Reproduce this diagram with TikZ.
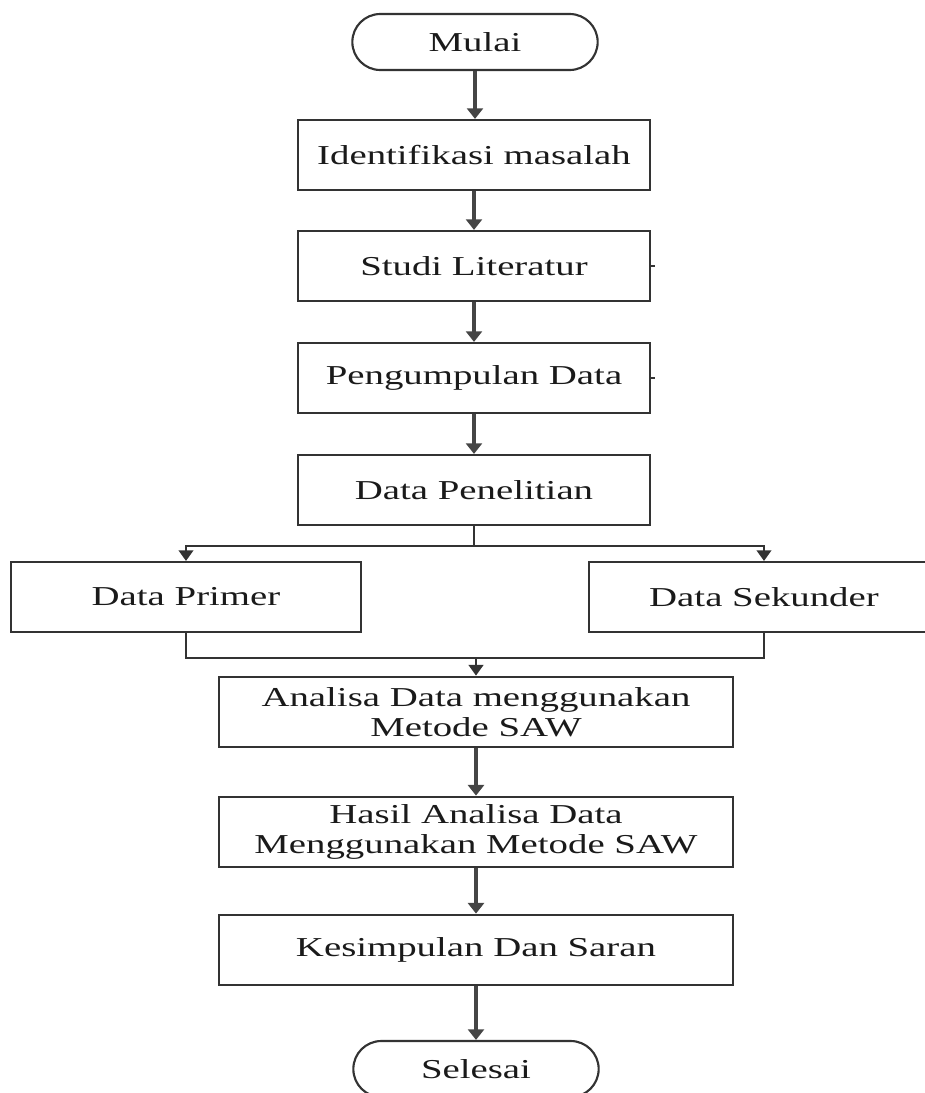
\documentclass[tikz,border=0pt]{standalone}
\usepackage{fontspec}
\setmainfont{Liberation Serif}[FakeStretch=1.42]
\usetikzlibrary{arrows.meta}
\definecolor{lineclr}{HTML}{333333}
\definecolor{arrclr}{HTML}{454545}
\definecolor{txtclr}{HTML}{1A1A1A}
\tikzset{
  px/.style={x=0.75pt,y=-0.75pt},
  base/.style={draw=lineclr,line width=1.6pt,text=txtclr,font=\fontsize{20.5}{22.5}\selectfont,align=center,inner sep=0pt},
  stepbox/.style={base,rectangle,minimum width=264pt,minimum height=52.5pt},
  widebox/.style={base,rectangle,minimum width=385.5pt,minimum height=53pt},
  sidebox/.style={base,rectangle,minimum width=263pt,minimum height=52.5pt},
  term/.style={base,rectangle,rounded corners=21pt,minimum width=184pt,minimum height=42pt},
  conn/.style={draw=arrclr,line width=2.6pt,-{Triangle[width=12pt,length=8pt]}},
  thinconn/.style={draw=lineclr,line width=1.6pt,-{Triangle[width=11pt,length=8pt]}},
  plain/.style={draw=lineclr,line width=1.6pt},
}
\begin{document}
\begin{tikzpicture}[px]
\useasboundingbox (0,0) rectangle (925,1093);
\node[term] (mulai) at (475,42) {Mulai};
\node[stepbox] (ident) at (474,155) {Identifikasi masalah};
\node[stepbox] (studi) at (474,266) {Studi Literatur};
\node[stepbox] (peng) at (474,378) {Pengumpulan Data};
\node[stepbox] (datap) at (474,490) {Data Penelitian};
\node[sidebox] (primer) at (186,597) {Data Primer};
\node[sidebox] (sekunder) at (764,597) {Data Sekunder};
\node[widebox] (analisa) at (476,712) {Analisa Data menggunakan\\Metode SAW};
\node[widebox] (hasil) at (476,832) {Hasil Analisa Data\\Menggunakan Metode SAW};
\node[widebox] (kesim) at (476,950) {Kesimpulan Dan Saran};
\node[term] (selesai) at (476,1069) {Selesai};

\coordinate (split) at (474,546);
\coordinate (merge) at (476,658);

\draw[conn] (mulai.south) -- (mulai.south |- ident.north);
\draw[conn] (ident.south) -- (ident.south |- studi.north);
\draw[conn] (studi.south) -- (studi.south |- peng.north);
\draw[conn] (peng.south) -- (peng.south |- datap.north);
\draw[plain] (datap.south) -- (split);
\draw[thinconn] (split) -| (primer.north);
\draw[thinconn] (split) -| (sekunder.north);
\draw[plain] (primer.south) |- (merge);
\draw[plain] (sekunder.south) |- (merge);
\draw[thinconn] (merge) -- (merge |- analisa.north);
\draw[conn] (analisa.south) -- (analisa.south |- hasil.north);
\draw[conn] (hasil.south) -- (hasil.south |- kesim.north);
\draw[conn] (kesim.south) -- (kesim.south |- selesai.north);

\draw[draw=lineclr,line width=0.8pt] (studi.east) -- ++(4,0);
\draw[draw=lineclr,line width=0.8pt] (peng.east) -- ++(4,0);
\end{tikzpicture}
\end{document}
